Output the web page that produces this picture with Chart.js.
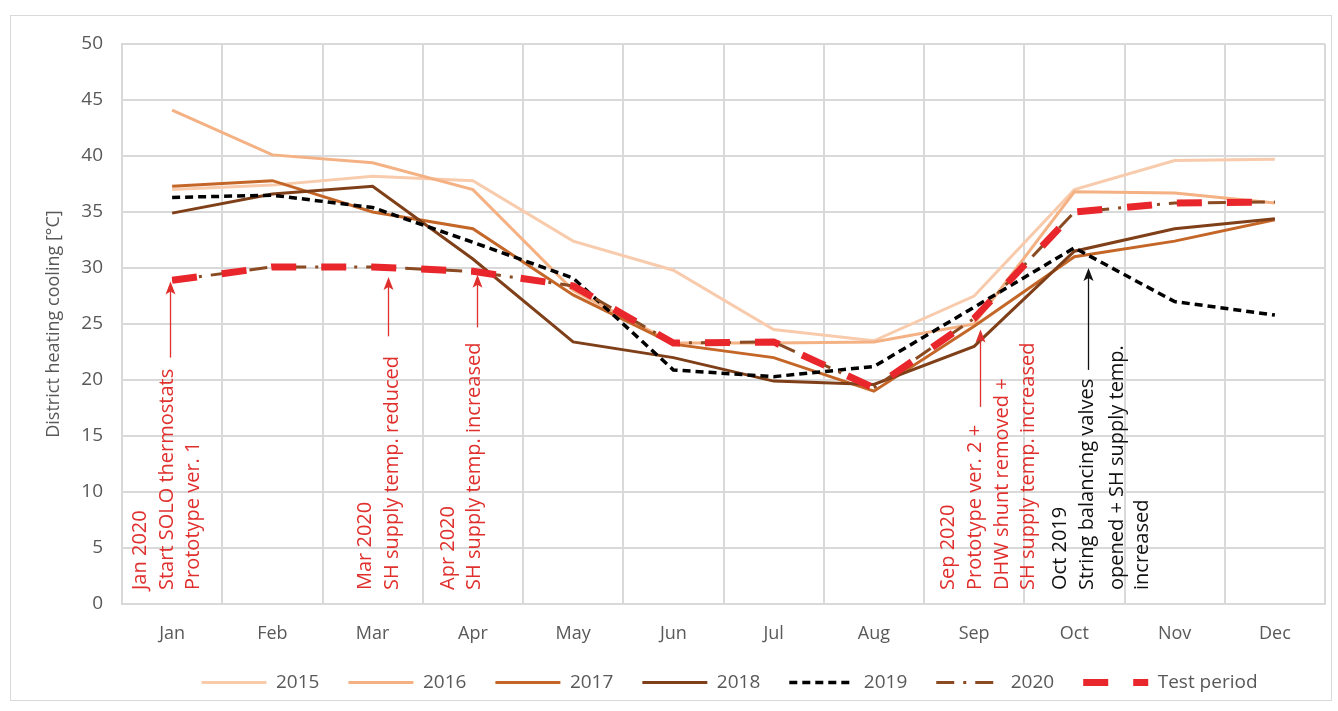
<!DOCTYPE html>
<html>
<head>
<meta charset="utf-8">
<script src="https://cdn.jsdelivr.net/npm/chart.js@4.4.1/dist/chart.umd.min.js"></script>
<style>
  html, body { margin: 0; padding: 0; background: #fff; }
  #wrap { position: relative; width: 1338px; height: 711px; }
  #frame { position: absolute; left: 10px; top: 15px; width: 1322px; height: 686px; border: 1px solid #d9d9d9; box-sizing: border-box; }
  #canvas { position: absolute; left: 0; top: 0; }
</style>
</head>
<body>
<div id="wrap">
  <div id="frame"></div>
  <canvas id="canvas" width="1338" height="711"></canvas>
</div>
<script>
// monthly district heating cooling, °C
const months = ['Jan', 'Feb', 'Mar', 'Apr', 'May', 'Jun', 'Jul', 'Aug', 'Sep', 'Oct', 'Nov', 'Dec'];
const cooling2015 = [37.0, 37.4, 38.2, 37.8, 32.4, 29.8, 24.5, 23.5, 27.5, 37.0, 39.6, 39.7];
const cooling2016 = [44.1, 40.1, 39.4, 37.0, 28.0, 23.3, 23.3, 23.4, 25.0, 36.8, 36.7, 35.8];
const cooling2017 = [37.3, 37.8, 35.0, 33.5, 27.6, 23.2, 22.0, 19.0, 24.8, 31.0, 32.4, 34.3];
const cooling2018 = [34.9, 36.6, 37.3, 30.8, 23.4, 22.0, 19.9, 19.6, 23.0, 31.5, 33.5, 34.4];
const cooling2019 = [36.3, 36.5, 35.4, 32.3, 29.1, 20.9, 20.3, 21.2, 26.5, 31.8, 27.0, 25.8];
const cooling2020 = [28.9, 30.1, 30.1, 29.7, 28.4, 23.3, 23.4, 19.3, 25.5, 35.0, 35.8, 35.9];
const testPeriod = [28.9, 30.1, 30.1, 29.7, 28.4, 23.3, 23.4, 19.3, 25.5, 35.0, 35.8, 35.9];
const yTicks = [0, 50, 5]; // min, max, step

const red = '#e0302d';
const textGrey = '#595959';
const gridGrey = '#d9d9d9';

// event notes: text lines with x offset from the month, arrow from tail value up to tip value
const notes = [
  { month: 'Jan', color: red, dx: -2, tail: 22.0, tip: 28.8,
    lines: [['Jan 2020', -32], ['Start SOLO thermostats', -5], ['Prototype ver. 1', 21]] },
  { month: 'Mar', color: red, dx: 15, tail: 23.9, tip: 29.2,
    lines: [['Mar 2020', -7], ['SH supply temp. reduced', 20]] },
  { month: 'Apr', color: red, dx: 4, tail: 24.7, tip: 29.4,
    lines: [['Apr 2020', -25], ['SH supply temp. increased', 1]] },
  { month: 'Sep', color: red, dx: 6, tail: 17.6, tip: 24.5,
    lines: [['Sep 2020', -26], ['Prototype ver. 2 +', 1], ['DHW shunt removed +', 28], ['SH supply temp. increased', 54]] },
  { month: 'Oct', color: '#111', dx: 14, tail: 20.9, tip: 30.0,
    lines: [['Oct 2019', -14], ['String balancing valves', 13], ['opened + SH supply temp.', 43], ['increased', 68]] },
];

const notesPlugin = {
  id: 'notes',
  afterDatasetsDraw(chart) {
    const { ctx, scales: { x, y } } = chart;
    const base = y.getPixelForValue(0) - 14;
    ctx.save();
    ctx.font = '20px "Open Sans"';
    ctx.textBaseline = 'middle';
    ctx.textAlign = 'left';
    notes.forEach((n) => {
      const cx = x.getPixelForValue(months.indexOf(n.month));
      ctx.fillStyle = n.color;
      n.lines.forEach(([text, off]) => {
        ctx.save();
        ctx.translate(cx + off, base);
        ctx.rotate(-Math.PI / 2);
        ctx.fillText(text, 0, 0);
        ctx.restore();
      });
      const ax = Math.round(cx + n.dx) + 0.5;
      const y0 = y.getPixelForValue(n.tail);
      const y1 = y.getPixelForValue(n.tip);
      ctx.strokeStyle = n.color;
      ctx.lineWidth = 1.3;
      ctx.beginPath();
      ctx.moveTo(ax, y0);
      ctx.lineTo(ax, y1 + 8);
      ctx.stroke();
      ctx.beginPath();
      ctx.moveTo(ax, y1);
      ctx.lineTo(ax - 5, y1 + 13);
      ctx.lineTo(ax, y1 + 10);
      ctx.lineTo(ax + 5, y1 + 13);
      ctx.closePath();
      ctx.fill();
    });
    ctx.restore();
  }
};

// move the legend row under the plot area
const legendShift = {
  id: 'legendShift',
  afterLayout(chart) {
    chart.legend.left += 67;
    chart.legend.right += 67;
  }
};

function series(label, data, color, width, dash, order) {
  return {
    label: label,
    data: data,
    borderColor: color,
    backgroundColor: color,
    borderWidth: width,
    borderDash: dash,
    pointRadius: 0,
    pointHoverRadius: 0,
    tension: 0,
    fill: false,
    order: order,
  };
}

const ctx = document.getElementById('canvas');
new Chart(ctx, {
  type: 'line',
  data: {
    labels: months,
    datasets: [
      series('2015', cooling2015, '#f8cbad', 3, [], 6),
      series('2016', cooling2016, '#f4b183', 3, [], 5),
      series('2017', cooling2017, '#c46628', 3, [], 4),
      series('2018', cooling2018, '#7f3f18', 3, [], 3),
      series('2019', cooling2019, '#000000', 3.5, [8, 5], 2),
      series('2020', cooling2020, '#8a4a22', 3, [18, 9, 3, 9], 1),
      series('Test period', testPeriod, '#e8262b', 7, [25, 25], 0),
    ],
  },
  options: {
    responsive: false,
    animation: false,
    events: [],
    layout: { padding: { top: 44, right: 13, bottom: 9, left: 0 } },
    plugins: {
      tooltip: { enabled: false },
      legend: {
        position: 'bottom',
        labels: {
          usePointStyle: true,
          pointStyle: 'line',
          pointStyleWidth: 65,
          padding: 29,
          color: textGrey,
          font: { family: '"Open Sans"', size: 19 },
          generateLabels(chart) {
            const items = Chart.defaults.plugins.legend.labels.generateLabels(chart);
            items.forEach((item) => {
              const ds = chart.data.datasets[item.datasetIndex];
              item.lineDash = ds.borderDash;
              item.lineWidth = ds.borderWidth;
              item.strokeStyle = ds.borderColor;
            });
            return items.sort((a, b) => a.datasetIndex - b.datasetIndex);
          },
        },
      },
    },
    scales: {
      x: {
        offset: true,
        grid: { offset: true, color: gridGrey, lineWidth: 2, drawTicks: false },
        border: { color: gridGrey, width: 2 },
        ticks: { color: textGrey, padding: 19, font: { family: '"Open Sans"', size: 18 } },
        afterFit(scale) { scale.height = 40; },
      },
      y: {
        min: yTicks[0],
        max: yTicks[1],
        ticks: { stepSize: yTicks[2], color: textGrey, padding: 19, font: { family: '"Open Sans"', size: 19 } },
        grid: { color: gridGrey, lineWidth: 2, drawTicks: false },
        border: { color: gridGrey, width: 2 },
        title: {
          display: true,
          text: 'District heating cooling [°C]',
          color: textGrey,
          padding: { top: 43, bottom: 0 },
          font: { family: '"Open Sans"', size: 18 },
        },
        afterFit(scale) { scale.width = 122; },
      },
    },
  },
  plugins: [notesPlugin, legendShift],
});
</script>
</body>
</html>
